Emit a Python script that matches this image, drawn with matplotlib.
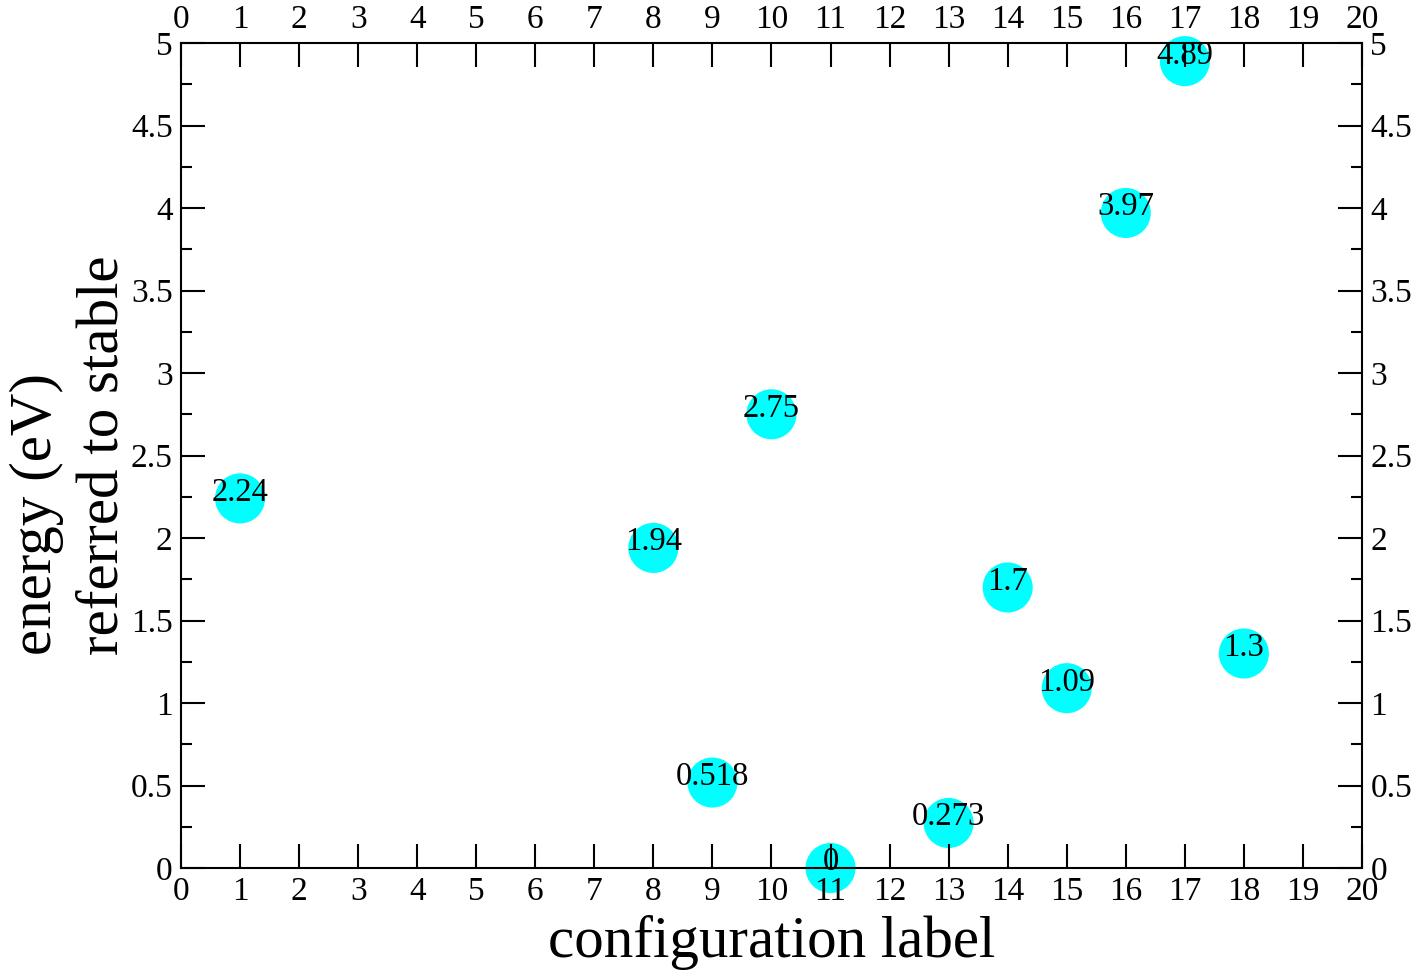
import matplotlib
matplotlib.use("Agg")
import matplotlib.pyplot as plt
from matplotlib.ticker import MultipleLocator, FuncFormatter

config = [1, 8, 9, 10, 11, 13, 14, 15, 16, 17, 18]
energy = [2.24, 1.94, 0.518, 2.75, 0, 0.273, 1.7, 1.09, 3.97, 4.89, 1.3]
labels = ["2.24", "1.94", "0.518", "2.75", "0", "0.273", "1.7", "1.09", "3.97", "4.89", "1.3"]

plt.rcParams['font.family'] = ['Liberation Serif', 'DejaVu Serif']

fig = plt.figure(figsize=(14.23, 9.73), dpi=100)
ax = fig.add_axes([0.1272, 0.1079, 0.9571 - 0.1272, 0.9558 - 0.1079])

ax.scatter(config, energy, s=1300, color="cyan", edgecolors="none",
           zorder=1, clip_on=False)
for xv, yv, t in zip(config, energy, labels):
    ax.text(xv, yv - 0.015, t, ha="center", va="baseline", fontsize=23.5, zorder=2)

ax.set_xlim(0, 20)
ax.set_ylim(0, 5)
ax.xaxis.set_major_locator(MultipleLocator(1))
ax.yaxis.set_major_locator(MultipleLocator(0.5))
ax.yaxis.set_minor_locator(MultipleLocator(0.25))
ax.yaxis.set_major_formatter(FuncFormatter(lambda v, p: f"{v:g}"))

ax.tick_params(which="both", direction="in", top=True, bottom=True, left=True, right=True,
               labeltop=True, labelbottom=True, labelleft=True, labelright=True,
               labelsize=24, width=1.5, pad=6)
ax.tick_params(which="major", length=17)
ax.tick_params(which="minor", length=8)
for sp in ax.spines.values():
    sp.set_linewidth(1.5)
    sp.set_zorder(3)

ax.set_xlabel("configuration label", fontsize=42.5, labelpad=6)
ax.set_ylabel("energy (eV)\nreferred to stable", fontsize=42.5, labelpad=0,
              linespacing=1.3, multialignment="left")

fig.savefig("out.png", dpi=100)
